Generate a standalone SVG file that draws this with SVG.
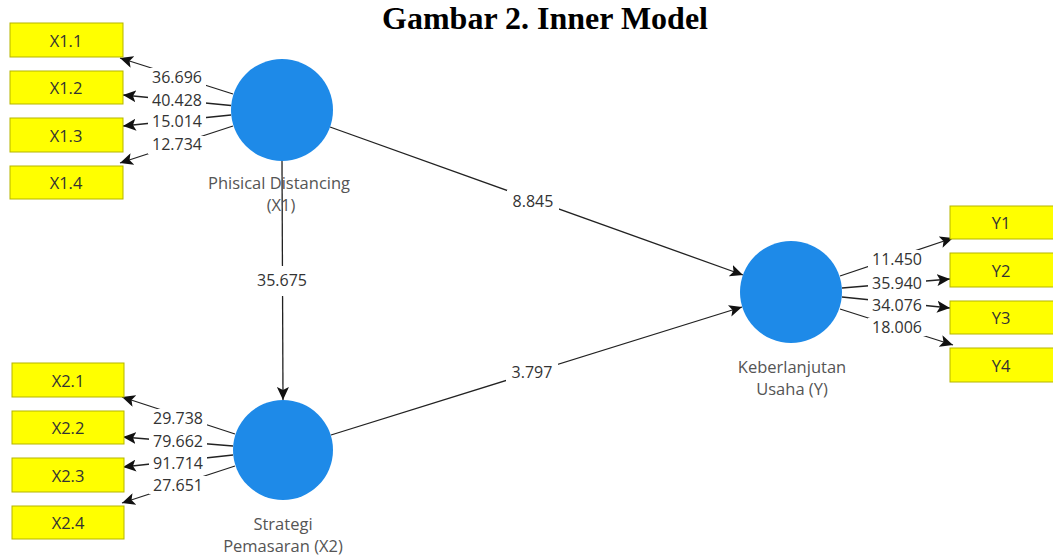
<svg xmlns="http://www.w3.org/2000/svg" width="1053" height="556" viewBox="0 0 1053 556">
<style>
.title{font-family:"Liberation Serif",serif;font-weight:bold;font-size:32px;fill:#000}
.box{fill:#FFFF00;stroke:#B5B500;stroke-width:1}
.btxt{font-family:"Open Sans","Noto Sans",sans-serif;font-size:16.5px;fill:#333;text-anchor:middle;dominant-baseline:central}
.lv{fill:#1E8AE8}
.ltxt{font-family:"Open Sans","Noto Sans",sans-serif;font-size:16.5px;fill:#555;text-anchor:middle;dominant-baseline:central}
.edge{stroke:#222;stroke-width:1.3;fill:none;marker-end:url(#ah)}
.lbg{fill:#fff}
.num{font-family:"Open Sans","Noto Sans",sans-serif;font-size:16px;fill:#333;text-anchor:middle;dominant-baseline:central}
</style>
<defs>
<marker id="ah" markerUnits="userSpaceOnUse" markerWidth="14" markerHeight="12" refX="13" refY="6" orient="auto">
<path d="M0,0 L13,6 L0,12 L3,6 Z" fill="#111"/>
</marker>
</defs>
<rect width="1053" height="556" fill="#fff"/>
<text class="title" x="545" y="29" text-anchor="middle">Gambar 2. Inner Model</text>

<g id="connectors">
<line class="edge" x1="233" y1="94" x2="120" y2="58"/>
<line class="edge" x1="231" y1="105.5" x2="123" y2="95"/>
<line class="edge" x1="231" y1="115" x2="123" y2="126"/>
<line class="edge" x1="233" y1="126" x2="120" y2="163"/>
<line class="edge" x1="235" y1="434" x2="122" y2="397"/>
<line class="edge" x1="233" y1="446" x2="123" y2="437"/>
<line class="edge" x1="233" y1="455" x2="123" y2="467"/>
<line class="edge" x1="235" y1="466" x2="122" y2="503"/>
<line class="edge" x1="840" y1="276" x2="953" y2="238"/>
<line class="edge" x1="842" y1="288" x2="950" y2="279"/>
<line class="edge" x1="842" y1="297" x2="950" y2="308"/>
<line class="edge" x1="840" y1="309" x2="953" y2="345"/>
<line class="edge" x1="330" y1="127" x2="743" y2="275"/>
<line class="edge" x1="331" y1="435" x2="742" y2="307"/>
<line class="edge" x1="282" y1="161" x2="283" y2="400"/>
<rect class="lbg" x="148" y="68" width="58" height="18"/>
<rect class="lbg" x="148" y="92" width="58" height="16"/>
<rect class="lbg" x="148" y="113" width="58" height="16"/>
<rect class="lbg" x="148" y="136" width="58" height="18"/>
<rect class="lbg" x="149" y="409" width="58" height="18"/>
<rect class="lbg" x="149" y="433" width="58" height="16"/>
<rect class="lbg" x="149" y="455" width="58" height="16"/>
<rect class="lbg" x="149" y="476" width="58" height="18"/>
<rect class="lbg" x="868" y="250" width="58" height="18"/>
<rect class="lbg" x="868" y="275" width="58" height="16"/>
<rect class="lbg" x="868" y="297" width="58" height="16"/>
<rect class="lbg" x="868" y="318" width="58" height="18"/>
<rect class="lbg" x="507" y="190" width="52" height="22"/>
<rect class="lbg" x="506" y="361" width="52" height="22"/>
<rect class="lbg" x="253" y="266" width="58" height="30"/>
<text class="num" x="177" y="77">36.696</text>
<text class="num" x="177" y="100">40.428</text>
<text class="num" x="177" y="121">15.014</text>
<text class="num" x="177" y="144">12.734</text>
<text class="num" x="178" y="418">29.738</text>
<text class="num" x="178" y="441">79.662</text>
<text class="num" x="178" y="463">91.714</text>
<text class="num" x="178" y="485">27.651</text>
<text class="num" x="897" y="259">11.450</text>
<text class="num" x="897" y="283">35.940</text>
<text class="num" x="897" y="305">34.076</text>
<text class="num" x="897" y="327">18.006</text>
<text class="num" x="533" y="201">8.845</text>
<text class="num" x="532" y="372">3.797</text>
<text class="num" x="282" y="280">35.675</text>
</g>

<g id="X1">
<circle class="lv" cx="282" cy="110" r="51"/>
<text class="ltxt" x="279" y="182">Phisical Distancing</text>
<text class="ltxt" x="281" y="204">(X1)</text>
</g>
<g id="X2">
<circle class="lv" cx="283" cy="450" r="50"/>
<text class="ltxt" x="283" y="523">Strategi</text>
<text class="ltxt" x="283" y="545">Pemasaran (X2)</text>
</g>
<g id="Y">
<circle class="lv" cx="791" cy="292" r="51"/>
<text class="ltxt" x="792" y="366">Keberlanjutan</text>
<text class="ltxt" x="792" y="388">Usaha (Y)</text>
</g>

<g id="X1.1"><rect class="box" x="10" y="23" width="113" height="34"/><text class="btxt" x="66" y="40">X1.1</text></g>
<g id="X1.2"><rect class="box" x="10" y="71" width="113" height="33"/><text class="btxt" x="66" y="87.5">X1.2</text></g>
<g id="X1.3"><rect class="box" x="10" y="118" width="113" height="34"/><text class="btxt" x="66" y="135">X1.3</text></g>
<g id="X1.4"><rect class="box" x="10" y="166" width="113" height="33"/><text class="btxt" x="66" y="182.5">X1.4</text></g>
<g id="X2.1"><rect class="box" x="12" y="363" width="112" height="34"/><text class="btxt" x="68" y="380">X2.1</text></g>
<g id="X2.2"><rect class="box" x="12" y="411" width="112" height="33"/><text class="btxt" x="68" y="427.5">X2.2</text></g>
<g id="X2.3"><rect class="box" x="12" y="458" width="112" height="34"/><text class="btxt" x="68" y="475">X2.3</text></g>
<g id="X2.4"><rect class="box" x="12" y="506" width="112" height="33"/><text class="btxt" x="68" y="522.5">X2.4</text></g>
<g id="Y1"><rect class="box" x="950" y="206" width="110" height="33"/><text class="btxt" x="1001" y="222.5">Y1</text></g>
<g id="Y2"><rect class="box" x="950" y="253" width="110" height="34"/><text class="btxt" x="1001" y="270">Y2</text></g>
<g id="Y3"><rect class="box" x="950" y="301" width="110" height="33"/><text class="btxt" x="1001" y="317.5">Y3</text></g>
<g id="Y4"><rect class="box" x="950" y="348" width="110" height="34"/><text class="btxt" x="1001" y="365">Y4</text></g>
</svg>
